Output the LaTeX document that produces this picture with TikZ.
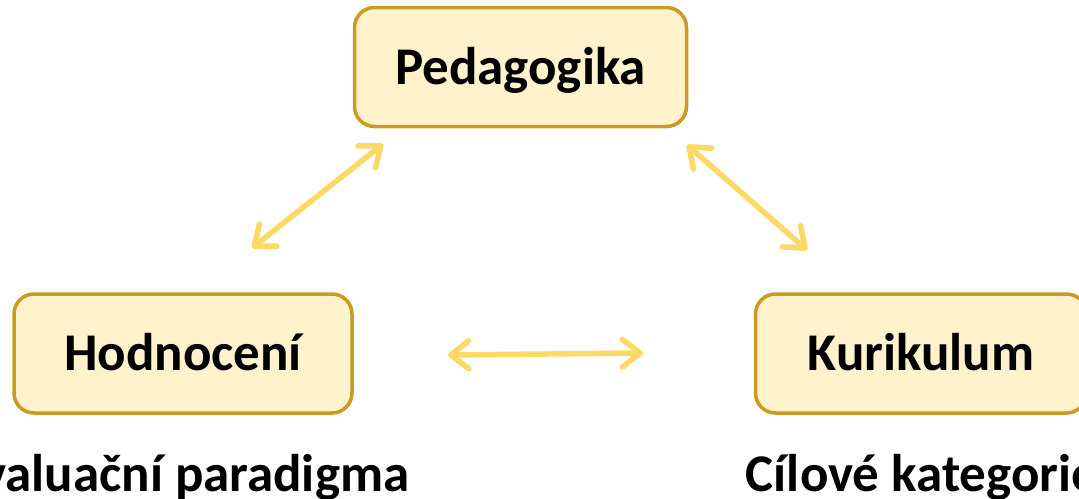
\documentclass[tikz,border=0pt]{standalone}
\usepackage{fontspec}
\setmainfont{Carlito}
\usetikzlibrary{arrows.meta}
\definecolor{boxedge}{RGB}{201,155,32}
\definecolor{boxfill}{RGB}{255,242,204}
\definecolor{arrowcol}{RGB}{255,217,102}
\tikzset{
  box/.style={draw=boxedge, fill=boxfill, line width=3.5pt, rounded corners=20pt,
    minimum width=#1, minimum height=119pt, text height=34pt, text depth=0pt,
    inner sep=0pt, font=\bfseries\fontsize{53}{60}\selectfont},
  caption/.style={anchor=base, inner sep=0pt, font=\bfseries\fontsize{53}{60}\selectfont},
  link/.style={draw=arrowcol, line width=5.5pt, line cap=round,
    {Straight Barb[length=18pt, width=28pt, line cap=round, line join=round]}-{Straight Barb[length=18pt, width=28pt, line cap=round, line join=round]}}
}
\begin{document}
\begin{tikzpicture}[x=1pt,y=-1pt]
\useasboundingbox (0,0) rectangle (1079,498);
\clip (0,0) rectangle (1079,498);
\node[box=332pt] (ped) at (520.5,67) {Pedagogika};
\node[box=338pt] (hod) at (183,353.5) {Hodnocení};
\node[box=331pt] (kur) at (921,353.5) {Kurikulum};
\node[caption] (eval) at (183,491) {Evaluační paradigma};
\node[caption] (cil) at (922,491) {Cílové kategorie};
\coordinate (a1s) at (252,248);
\coordinate (a1e) at (383,144);
\coordinate (a2s) at (687,145);
\coordinate (a2e) at (807,250);
\coordinate (a3s) at (448,355);
\coordinate (a3e) at (643,353);
\draw[link] (a1s) -- (a1e);
\draw[link] (a2s) -- (a2e);
\draw[link] (a3s) -- (a3e);
\end{tikzpicture}
\end{document}
